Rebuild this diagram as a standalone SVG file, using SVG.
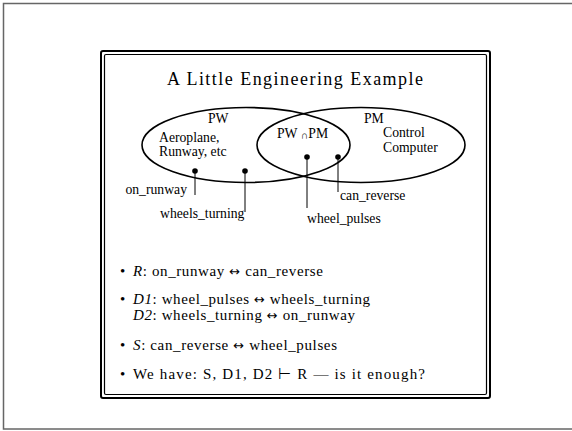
<svg xmlns="http://www.w3.org/2000/svg" width="572" height="431" viewBox="0 0 572 431">
<style>
text{font-family:"Liberation Serif","Times New Roman",serif;fill:#000}
.lbl{font-size:13.7px}
.bul{font-size:15px}
.it{font-style:italic}
.ar{font-family:"DejaVu Sans",sans-serif;font-size:13px}
.ell{fill:none;stroke:#000;stroke-width:1.6}
.ln{stroke:#000;stroke-width:1}
</style>
<rect x="0" y="0" width="572" height="431" fill="#fff"/>
<rect x="3.5" y="3.5" width="600" height="425.5" fill="none" stroke="#666" stroke-width="1.5"/>
<g id="frame">
<rect x="101" y="51" width="389" height="347" rx="2" fill="none" stroke="#000" stroke-width="2"/>
<rect x="104.5" y="54.5" width="382" height="340" rx="1.5" fill="none" stroke="#000" stroke-width="1.2"/>
</g>
<text id="title" x="167" y="85" font-size="18" textLength="256" lengthAdjust="spacing">A Little Engineering Example</text>
<g id="PW">
<ellipse class="ell" cx="246" cy="145" rx="104" ry="37.5"/>
<text class="lbl" x="208" y="123">PW</text>
<text class="lbl" x="159" y="141.5">Aeroplane,</text>
<text class="lbl" x="159" y="155.5">Runway, etc</text>
</g>
<g id="PM">
<ellipse class="ell" cx="361" cy="145" rx="104" ry="37.5"/>
<text class="lbl" x="364" y="123">PM</text>
<text class="lbl" x="383" y="137">Control</text>
<text class="lbl" x="383" y="152">Computer</text>
</g>
<g id="PWPM">
<text class="lbl" x="277" y="138">PW <tspan font-size="10.5" dy="1">∩</tspan><tspan dy="-1">PM</tspan></text>
</g>
<g id="connectors">
<circle cx="195" cy="171" r="2.8"/>
<line class="ln" x1="195" y1="171" x2="195" y2="195"/>
<circle cx="245" cy="171" r="2.8"/>
<line class="ln" x1="245" y1="171" x2="245" y2="212"/>
<circle cx="307" cy="157" r="2.8"/>
<line class="ln" x1="307" y1="157" x2="307" y2="208"/>
<circle cx="338" cy="157" r="2.8"/>
<line class="ln" x1="338" y1="157" x2="338" y2="192"/>
</g>
<g id="on_runway"><text class="lbl" x="187" y="194" text-anchor="end">on_runway</text></g>
<g id="wheels_turning"><text class="lbl" x="160" y="218">wheels_turning</text></g>
<g id="wheel_pulses"><text class="lbl" x="307" y="223">wheel_pulses</text></g>
<g id="can_reverse"><text class="lbl" x="340" y="200">can_reverse</text></g>
<g id="bullets">
<text class="bul" x="120" y="276">•</text>
<text class="bul" x="133" y="276" textLength="190" lengthAdjust="spacing"><tspan class="it">R</tspan>: on_runway <tspan class="ar">↔</tspan> can_reverse</text>
<text class="bul" x="120" y="304">•</text>
<text class="bul" x="133" y="304" textLength="237" lengthAdjust="spacing"><tspan class="it">D1</tspan>: wheel_pulses <tspan class="ar">↔</tspan> wheels_turning</text>
<text class="bul" x="133" y="320" textLength="222" lengthAdjust="spacing"><tspan class="it">D2</tspan>: wheels_turning <tspan class="ar">↔</tspan> on_runway</text>
<text class="bul" x="120" y="350">•</text>
<text class="bul" x="133" y="350" textLength="204" lengthAdjust="spacing"><tspan class="it">S</tspan>: can_reverse <tspan class="ar">↔</tspan> wheel_pulses</text>
<text class="bul" x="120" y="379">•</text>
<text class="bul" x="133" y="379" textLength="292" lengthAdjust="spacing">We have: S, D1, D2 ⊢ R — is it enough?</text>
</g>
</svg>
